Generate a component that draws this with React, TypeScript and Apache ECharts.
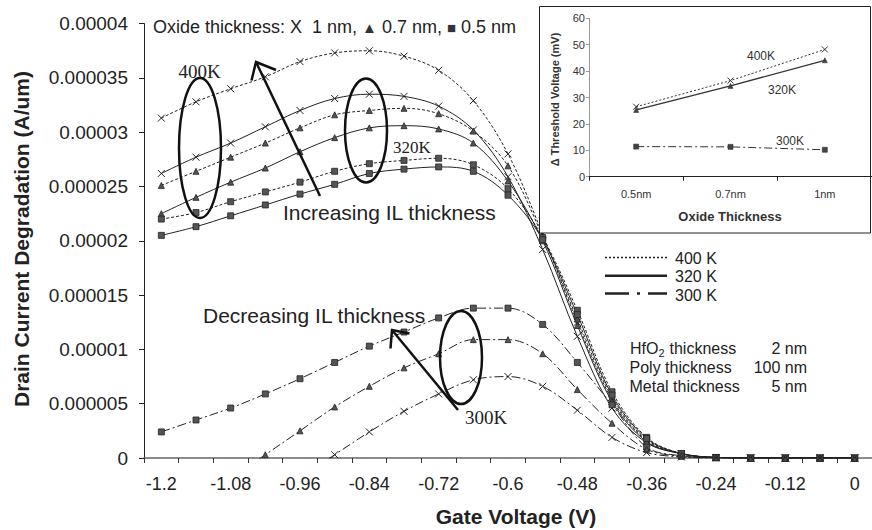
import React, { useEffect, useRef } from "react";
import * as echarts from "echarts";

// ---------- data ----------
const xCategories = [
  "-1.2", "-1.14", "-1.08", "-1.02", "-0.96", "-0.9", "-0.84", "-0.78", "-0.72", "-0.66", "-0.6",
  "-0.54", "-0.48", "-0.42", "-0.36", "-0.3", "-0.24", "-0.18", "-0.12", "-0.06", "0",
];
const yTickLabels = ["0", "0.000005", "0.00001", "0.000015", "0.00002", "0.000025", "0.00003", "0.000035", "0.00004"];

// Drain current degradation (A/um)
const k400_1nm = [31.3e-6, 32.8e-6, 34.0e-6, 35.1e-6, 36.5e-6, 37.3e-6, 37.5e-6, 37.0e-6, 35.7e-6, 32.9e-6, 28.0e-6, 20.6e-6, 12.5e-6, 5.4e-6, 1.6e-6, 0.4e-6, 0.05e-6, 0, 0, 0, 0];
const k320_1nm = [26.2e-6, 27.7e-6, 29.0e-6, 30.5e-6, 32.0e-6, 33.1e-6, 33.5e-6, 33.3e-6, 32.4e-6, 30.2e-6, 25.9e-6, 19.2e-6, 11.2e-6, 4.6e-6, 1.4e-6, 0.4e-6, 0.05e-6, 0, 0, 0, 0];
const k400_07nm = [25.1e-6, 26.4e-6, 27.7e-6, 29.0e-6, 30.4e-6, 31.6e-6, 32.0e-6, 32.2e-6, 31.7e-6, 30.1e-6, 26.9e-6, 20.4e-6, 12.8e-6, 5.6e-6, 1.7e-6, 0.4e-6, 0.05e-6, 0, 0, 0, 0];
const k320_07nm = [22.5e-6, 24.0e-6, 25.4e-6, 26.7e-6, 28.2e-6, 29.5e-6, 30.4e-6, 30.6e-6, 30.3e-6, 29.0e-6, 25.5e-6, 20.0e-6, 12.2e-6, 5.2e-6, 1.5e-6, 0.4e-6, 0.05e-6, 0, 0, 0, 0];
const k400_05nm = [22.0e-6, 22.6e-6, 23.6e-6, 24.5e-6, 25.4e-6, 26.4e-6, 27.1e-6, 27.4e-6, 27.6e-6, 27.0e-6, 24.8e-6, 20.3e-6, 13.6e-6, 6.1e-6, 1.9e-6, 0.4e-6, 0.05e-6, 0, 0, 0, 0];
const k320_05nm = [20.5e-6, 21.3e-6, 22.3e-6, 23.3e-6, 24.3e-6, 25.2e-6, 26.2e-6, 26.6e-6, 26.8e-6, 26.4e-6, 24.2e-6, 20.1e-6, 13.2e-6, 5.8e-6, 1.8e-6, 0.4e-6, 0.05e-6, 0, 0, 0, 0];
const k300_05nm = [2.4e-6, 3.5e-6, 4.6e-6, 5.9e-6, 7.3e-6, 8.8e-6, 10.3e-6, 11.6e-6, 12.9e-6, 13.8e-6, 13.8e-6, 12.3e-6, 8.8e-6, 4.9e-6, 1.0e-6, 0.2e-6, 0.03e-6, 0, 0, 0, 0];
const k300_07nm = [null, null, -1.9e-6, 0.3e-6, 2.5e-6, 4.7e-6, 6.6e-6, 8.3e-6, 9.6e-6, 10.9e-6, 10.9e-6, 9.6e-6, 6.3e-6, 3.2e-6, 0.8e-6, 0.15e-6, 0.02e-6, 0, 0, 0, 0];
const k300_1nm = [null, null, null, null, -1.8e-6, 0.3e-6, 2.4e-6, 4.3e-6, 5.9e-6, 7.2e-6, 7.5e-6, 6.6e-6, 4.4e-6, 1.9e-6, 0.5e-6, 0.1e-6, 0.01e-6, 0, 0, 0, 0];

// Inset: threshold voltage shift (mV)
const insetCategories = ["0.5nm", "0.7nm", "1nm"];
const inset400 = [26.5, 36.4, 48.2];
const inset320 = [25.3, 34.4, 44.1];
const inset300 = [11.4, 11.3, 10.2];

// ---------- styling ----------
const FONT = "'Liberation Sans', Arial, Helvetica, sans-serif";
const SERIF = "'Liberation Serif', 'Times New Roman', Times, serif";
const X_SYMBOL = "path://M0,0L10,10M10,0L0,10";
const INK = "#222";

type Marker = "x" | "tri" | "sq";
const dashFor = (t: number): any => (t === 400 ? [3, 2] : t === 300 ? [9, 3, 2, 3] : "solid");

function mainSeries(name: string, data: any[], temp: number, marker: Marker) {
  return {
    type: "line",
    name,
    data,
    xAxisIndex: 0,
    yAxisIndex: 0,
    smooth: 0.35,
    clip: true,
    z: 2,
    showAllSymbol: true,
    symbol: marker === "x" ? X_SYMBOL : marker === "tri" ? "triangle" : "rect",
    symbolSize: marker === "x" ? 7 : 6,
    lineStyle: { color: INK, width: 1, type: dashFor(temp) },
    itemStyle:
      marker === "x"
        ? { color: "none", borderColor: INK, borderWidth: 1 }
        : { color: "#555", borderColor: INK, borderWidth: 0.8 },
    emphasis: { disabled: true },
  };
}

function insetSeries(name: string, data: number[], temp: number, marker: Marker) {
  return {
    type: "line",
    name,
    data,
    xAxisIndex: 1,
    yAxisIndex: 1,
    z: 10,
    showAllSymbol: true,
    symbol: marker === "x" ? X_SYMBOL : marker === "tri" ? "triangle" : "rect",
    symbolSize: marker === "x" ? 6 : 5,
    lineStyle: { color: "#333", width: temp === 320 ? 1.3 : 1, type: temp === 400 ? [2, 2] : temp === 300 ? [8, 3, 2, 3] : "solid" },
    itemStyle:
      marker === "x"
        ? { color: "none", borderColor: "#333", borderWidth: 1 }
        : { color: "#444", borderColor: "#333", borderWidth: 0.6 },
    emphasis: { disabled: true },
  };
}

function txt(text: string, x: number, y: number, opts: any = {}) {
  return {
    type: "text",
    x,
    y,
    z: 20,
    rotation: opts.rotation || 0,
    style: {
      text,
      fill: opts.fill || INK,
      fontSize: opts.fontSize || 16,
      fontFamily: opts.fontFamily || FONT,
      fontWeight: opts.fontWeight || "normal",
      align: opts.align || "left",
      verticalAlign: "middle",
      rich: opts.rich,
    },
  };
}

export default function App() {
  const ref = useRef<HTMLDivElement>(null);

  useEffect(() => {
    if (!ref.current) return;
    const chart = echarts.init(ref.current, undefined, { renderer: "svg" });

    const option: any = {
      animation: false,
      backgroundColor: "#fff",
      textStyle: { fontFamily: FONT },
      grid: [
        { left: 144, top: 23.6, width: 735, height: 434.4 },
        { left: 589, top: 18.3, width: 284, height: 158.4 },
      ],
      xAxis: [
        {
          type: "category",
          gridIndex: 0,
          data: xCategories,
          boundaryGap: true,
          axisLine: { lineStyle: { color: "#666", width: 1.5 } },
          axisTick: { show: true, interval: 0, length: 5, lineStyle: { color: "#333" } },
          axisLabel: { interval: 1, fontSize: 18, color: INK, margin: 17, fontFamily: FONT },
          splitLine: { show: false },
        },
        {
          type: "category",
          gridIndex: 1,
          data: insetCategories,
          boundaryGap: true,
          z: 5,
          axisLine: { lineStyle: { color: "#222", width: 1 } },
          axisTick: { show: true, interval: 0, length: 4, lineStyle: { color: "#222" } },
          axisLabel: { fontSize: 11, color: "#333", margin: 12, fontFamily: FONT },
          splitLine: { show: false },
        },
      ],
      yAxis: [
        {
          type: "value",
          gridIndex: 0,
          min: 0,
          max: 0.00004,
          interval: 0.000005,
          axisLine: { show: true, lineStyle: { color: INK, width: 1 } },
          axisTick: { show: true, length: 5, lineStyle: { color: INK } },
          axisLabel: {
            fontSize: 19,
            color: INK,
            margin: 16,
            fontFamily: FONT,
            formatter: (v: number) => yTickLabels[Math.round(v / 0.000005)] ?? "",
          },
          splitLine: { show: false },
        },
        {
          type: "value",
          gridIndex: 1,
          min: 0,
          max: 60,
          interval: 10,
          z: 5,
          axisLine: { show: true, lineStyle: { color: "#999", width: 1 } },
          axisTick: { show: true, length: 3, lineStyle: { color: "#999" } },
          axisLabel: { fontSize: 11, color: "#333", margin: 4, fontFamily: FONT },
          splitLine: { show: false },
        },
      ],
      series: [
        mainSeries("400K 1nm", k400_1nm, 400, "x"),
        mainSeries("320K 1nm", k320_1nm, 320, "x"),
        mainSeries("400K 0.7nm", k400_07nm, 400, "tri"),
        mainSeries("320K 0.7nm", k320_07nm, 320, "tri"),
        mainSeries("400K 0.5nm", k400_05nm, 400, "sq"),
        mainSeries("320K 0.5nm", k320_05nm, 320, "sq"),
        mainSeries("300K 0.5nm", k300_05nm, 300, "sq"),
        mainSeries("300K 0.7nm", k300_07nm, 300, "tri"),
        mainSeries("300K 1nm", k300_1nm, 300, "x"),
        insetSeries("Inset 400K", inset400, 400, "x"),
        insetSeries("Inset 320K", inset320, 320, "tri"),
        insetSeries("Inset 300K", inset300, 300, "sq"),
      ],
      graphic: [
        // inset frame
        {
          type: "rect",
          z: 3,
          shape: { x: 539.5, y: 6.5, width: 331, height: 226.5 },
          style: { fill: "#fff", stroke: "#222", lineWidth: 1 },
        },
        // axis names
        txt("Drain Current Degradation (A/um)", 21, 239, { fontSize: 21, fontWeight: "bold", align: "center", rotation: Math.PI / 2 }),
        txt("Gate Voltage (V)", 516, 516, { fontSize: 21, fontWeight: "bold", align: "center" }),
        // marker key
        txt("Oxide thickness: X  1 nm, {s|▲} 0.7 nm, {s|■} 0.5 nm", 153, 27, {
          fontSize: 18,
          rich: { s: { fontSize: 15, fontFamily: FONT, fill: "#333" } },
        }),
        // temperature annotations
        txt("400K", 199.5, 71, { fontSize: 19, fontFamily: SERIF, align: "center" }),
        txt("320K", 393, 147, { fontSize: 17, fontFamily: SERIF }),
        txt("300K", 465, 417, { fontSize: 19, fontFamily: SERIF }),
        txt("Increasing IL thickness", 283, 212, { fontSize: 21 }),
        txt("Decreasing IL thickness", 203, 315, { fontSize: 21 }),
        // ellipses
        { type: "ellipse", z: 20, shape: { cx: 200, cy: 148, rx: 21, ry: 70 }, style: { fill: "none", stroke: "#111", lineWidth: 2.5 } },
        { type: "ellipse", z: 20, shape: { cx: 366, cy: 130.5, rx: 21, ry: 52 }, style: { fill: "none", stroke: "#111", lineWidth: 2.5 } },
        { type: "ellipse", z: 20, shape: { cx: 461, cy: 357.5, rx: 21, ry: 46.5 }, style: { fill: "none", stroke: "#111", lineWidth: 2.5 } },
        // arrows
        { type: "line", z: 20, shape: { x1: 320, y1: 196, x2: 256, y2: 62 }, style: { stroke: "#111", lineWidth: 2.5 } },
        { type: "polyline", z: 20, shape: { points: [[251.5, 80.5], [256, 62], [276, 70]] }, style: { stroke: "#111", lineWidth: 2.5, fill: "none" } },
        { type: "line", z: 20, shape: { x1: 458, y1: 410, x2: 392, y2: 330 }, style: { stroke: "#111", lineWidth: 2.5 } },
        { type: "polyline", z: 20, shape: { points: [[390.5, 348.5], [392, 330], [409.5, 333.5]] }, style: { stroke: "#111", lineWidth: 2.5, fill: "none" } },
        // line style legend
        { type: "line", z: 20, shape: { x1: 605, y1: 257.5, x2: 667, y2: 257.5 }, style: { stroke: "#222", lineWidth: 1.5, lineDash: [2, 2] } },
        { type: "line", z: 20, shape: { x1: 605, y1: 275.7, x2: 667, y2: 275.7 }, style: { stroke: "#222", lineWidth: 2.5 } },
        { type: "line", z: 20, shape: { x1: 605, y1: 293.5, x2: 667, y2: 293.5 }, style: { stroke: "#222", lineWidth: 2.5, lineDash: [24, 8, 3, 8] } },
        txt("400 K", 675, 258.5, { fontSize: 16 }),
        txt("320 K", 675, 276.5, { fontSize: 16 }),
        txt("300 K", 675, 295, { fontSize: 16 }),
        // device parameters
        txt("HfO", 630, 348.5, { fontSize: 16 }),
        txt("2", 658.6, 352.5, { fontSize: 11 }),
        txt("thickness", 669.5, 348.5, { fontSize: 16 }),
        txt("Poly thickness", 629.5, 367.5, { fontSize: 16 }),
        txt("Metal thickness", 629.5, 386, { fontSize: 16 }),
        txt("2 nm", 807, 348.5, { fontSize: 16, align: "right" }),
        txt("100 nm", 807, 367.5, { fontSize: 16, align: "right" }),
        txt("5 nm", 807, 386, { fontSize: 16, align: "right" }),
        // inset texts
        txt("400K", 747, 56, { fontSize: 12, fill: "#333" }),
        txt("320K", 768, 90, { fontSize: 12, fill: "#333" }),
        txt("300K", 776, 141, { fontSize: 12, fill: "#333" }),
        txt("Oxide Thickness", 730, 216.5, { fontSize: 13, fontWeight: "bold", align: "center", fill: "#333" }),
        txt("Δ Threshold Voltage (mV)", 555, 99.5, { fontSize: 11, fontWeight: "bold", align: "center", rotation: Math.PI / 2, fill: "#333" }),
      ],
    };

    chart.setOption(option);
    return () => chart.dispose();
  }, []);

  return <div ref={ref} style={{ position: "absolute", left: 0, top: 0, width: 872, height: 530 }} />;
}
